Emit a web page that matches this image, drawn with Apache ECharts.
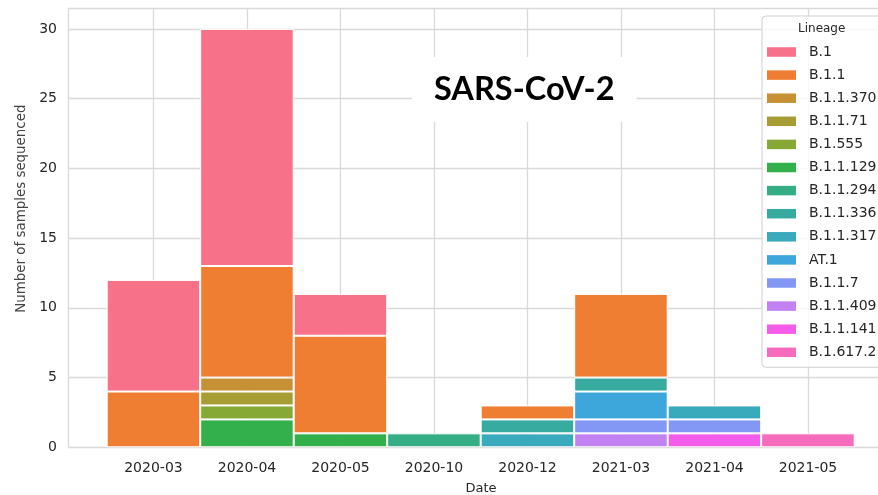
<!DOCTYPE html>
<html>
<head>
<meta charset="utf-8">
<script src="https://cdn.jsdelivr.net/npm/echarts@6/dist/echarts.min.js"></script>
<style>
html, body { margin: 0; padding: 0; background: #fff; }
#chart { width: 878px; height: 495px; }
</style>
</head>
<body>
<div id="chart"></div>
<script>
// dates on the x axis
var dates = ["2020-03", "2020-04", "2020-05", "2020-10", "2020-12", "2021-03", "2021-04", "2021-05"];

// lineages, legend order (top of stack first)
var lineages = ["B.1", "B.1.1", "B.1.1.370", "B.1.1.71", "B.1.555", "B.1.1.129", "B.1.1.294",
	"B.1.1.336", "B.1.1.317", "AT.1", "B.1.1.7", "B.1.1.409", "B.1.1.141", "B.1.617.2"];

var colors = ["#f77189", "#ef7e33", "#c69134", "#a69d34", "#86a834", "#33b04b", "#35ae85",
	"#37ab9f", "#39a9bc", "#3da6da", "#8298f4", "#c382f2", "#f45de9", "#f66bbb"];

// samples per date, one array per lineage
var vB1 = [8, 17, 3, 0, 0, 0, 0, 0];
var vB11 = [4, 8, 7, 0, 1, 6, 0, 0];
var vB11370 = [0, 1, 0, 0, 0, 0, 0, 0];
var vB1171 = [0, 1, 0, 0, 0, 0, 0, 0];
var vB1555 = [0, 1, 0, 0, 0, 0, 0, 0];
var vB11129 = [0, 2, 1, 0, 0, 0, 0, 0];
var vB11294 = [0, 0, 0, 1, 0, 0, 0, 0];
var vB11336 = [0, 0, 0, 0, 1, 1, 0, 0];
var vB11317 = [0, 0, 0, 0, 1, 0, 1, 0];
var vAT1 = [0, 0, 0, 0, 0, 2, 0, 0];
var vB117 = [0, 0, 0, 0, 0, 1, 1, 0];
var vB11409 = [0, 0, 0, 0, 0, 1, 0, 0];
var vB11141 = [0, 0, 0, 0, 0, 0, 1, 0];
var vB16172 = [0, 0, 0, 0, 0, 0, 0, 1];

var values = [vB1, vB11, vB11370, vB1171, vB1555, vB11129, vB11294,
	vB11336, vB11317, vAT1, vB117, vB11409, vB11141, vB16172];

var yTicks = [0, 5, 10, 15, 20, 25, 30];

var gridcolor = "#d9d9d9";
var textcolor = "#262626";

//0 不画
function makedata(arr){
	var data = [];
	for(var i=0; i<arr.length; i++){
		data.push(arr[i] == 0 ? "-" : arr[i]);
	}
	return data;
}

//堆叠顺序：图例最后一项在最底下
var series = [];
for(var k=lineages.length-1; k>=0; k--){
	series.push({
		name: lineages[k],
		type: "bar",
		stack: "all",
		barWidth: "100%",
		xAxisIndex: 1,
		yAxisIndex: 1,
		data: makedata(values[k]),
		itemStyle: { color: colors[k], borderColor: "#fff", borderWidth: 1 },
		emphasis: { disabled: true }
	});
}

var myChart = echarts.init(document.getElementById("chart"), null, { renderer: "canvas" });

myChart.setOption({
	animation: false,
	backgroundColor: "#fff",
	textStyle: { fontFamily: "DejaVu Sans" },
	//0：外框和网格线，1：柱子
	grid: [
		{ left: 68, right: -2, top: 8, bottom: 47.7, containLabel: false, outerBoundsMode: "none" },
		{ left: 106.7, right: 23.3, top: 8, bottom: 47.7, containLabel: false, outerBoundsMode: "none" }
	],
	title: [{
		text: "SARS-CoV-2",
		left: 412, top: 57,
		padding: [16, 22, 16, 22],
		backgroundColor: "#fff",
		textStyle: { fontFamily: "Lato", fontWeight: "bold", fontSize: 32.5, color: "#000" }
	}, {
		text: "Lineage",
		left: 798, top: 23, padding: 0,
		textStyle: { fontFamily: "DejaVu Sans", fontWeight: "normal", fontSize: 12, color: textcolor }
	}],
	legend: {
		data: lineages,
		orient: "vertical",
		left: 762, top: 16,
		padding: [29, 20, 8, 5],
		itemWidth: 29, itemHeight: 9.5, itemGap: 9.1,
		backgroundColor: "rgba(255,255,255,0.8)",
		borderColor: "#d0d0d0", borderWidth: 1, borderRadius: 4,
		icon: "rect",
		itemStyle: { borderWidth: 0 },
		textStyle: { fontSize: 14, lineHeight: 14, color: textcolor, padding: [0, 0, 0, 8] }
	},
	xAxis: [{
		gridIndex: 0,
		type: "value",
		min: -0.914, max: 7.77,
		splitNumber: 9,
		name: "Date", nameLocation: "middle", nameGap: 35,
		nameTextStyle: { fontSize: 13, color: textcolor, padding: [0, 0, 0, 14] },
		axisLine: { show: false },
		axisTick: { show: false },
		axisLabel: {
			fontSize: 14, color: textcolor, margin: 14,
			showMinLabel: false, showMaxLabel: false,
			formatter: function(v){
				var i = Math.round(v);
				if(Math.abs(v - i) > 1e-6 || i < 0 || i >= dates.length) return "";
				return dates[i];
			}
		},
		splitLine: { show: true, lineStyle: { color: gridcolor, width: 1.3 } }
	}, {
		gridIndex: 1,
		type: "category",
		data: dates,
		show: false
	}],
	yAxis: [{
		gridIndex: 0,
		type: "value",
		min: 0, max: 31.5, interval: 5,
		name: "Number of samples sequenced", nameLocation: "middle", nameGap: 27,
		nameTextStyle: { fontSize: 13.4, color: "#444", padding: [0, 0, 0, 38] },
		axisLine: { show: false },
		axisTick: { show: false },
		axisLabel: {
			fontSize: 14, color: textcolor, margin: 11,
			formatter: function(v){
				return yTicks.indexOf(v) > -1 ? String(v) : "";
			}
		},
		splitLine: { show: true, lineStyle: { color: gridcolor, width: 1.3 } }
	}, {
		gridIndex: 1,
		type: "value",
		min: 0, max: 31.5,
		show: false,
		splitLine: { show: false }
	}],
	series: series
});
</script>
</body>
</html>
